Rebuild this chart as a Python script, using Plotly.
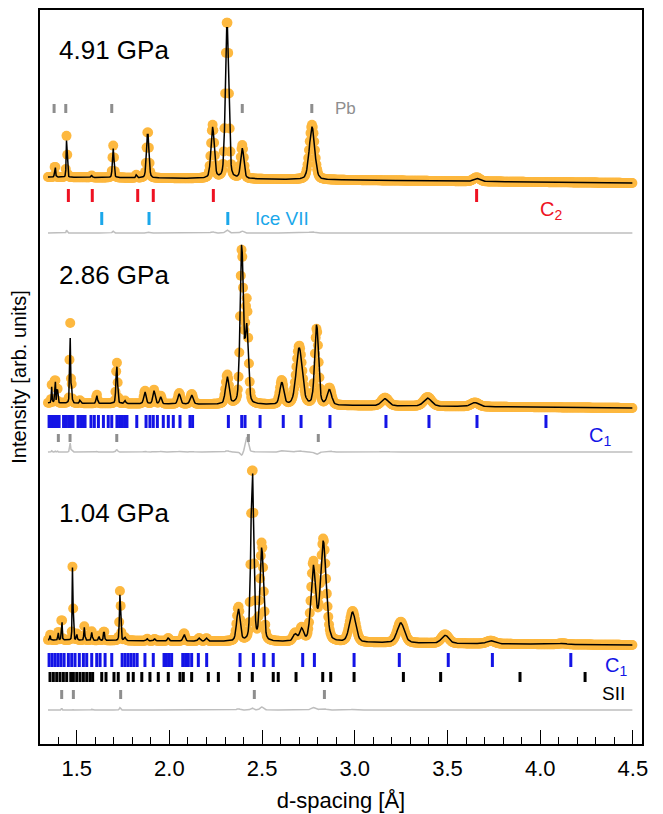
import numpy as np
import plotly.graph_objects as go

# ---------------- data ----------------
# d-spacing sampling of the measured patterns
d_start, d_stop, d_step = 1.345, 4.50, 0.004

# pattern 1 : 4.91 GPa   (peak centre [A], calc height, obs height, FWHM [A])
p1_pos  = [1.383, 1.446, 1.580, 1.697, 1.822, 1.883, 2.233, 2.311, 2.393, 2.769, 3.657]
p1_hc   = [13, 40, 2, 29, 3, 46, 51, 155, 30, 53, 3]
p1_ho   = [14, 45, 2, 32, 3, 48, 53, 160, 33, 55, 4]
p1_w    = [0.006, 0.006, 0.008, 0.010, 0.008, 0.015, 0.021, 0.021, 0.020, 0.034, 0.04]
p1_base = [567, 561]
p1_diff = 511

# pattern 2 : 2.86 GPa
p2_pos = [1.365, 1.383, 1.395, 1.464, 1.472, 1.518, 1.608, 1.716, 1.760, 1.868, 1.917,
          1.953, 2.053, 2.120, 2.312, 2.390, 2.417, 2.606, 2.700, 2.794, 2.863,
          3.163, 3.393, 3.648]
p2_hc  = [16, 33, 20, 70, 15, 3, 8, 38, 3, 12, 13, 7, 10, 9, 27, 158, 75, 22, 57, 80, 15,
          7, 8, 4]
p2_ho  = [18, 35, 22, 86, 18, 3, 9, 42, 3, 13, 14, 8, 11, 10, 29, 152, 100, 24, 59, 76, 17,
          8, 9, 4]
p2_w   = [0.005, 0.005, 0.005, 0.006, 0.006, 0.008, 0.009, 0.010, 0.010, 0.015, 0.015,
          0.013, 0.017, 0.019, 0.022, 0.020, 0.020, 0.025, 0.038, 0.024, 0.028,
          0.045, 0.05, 0.05]
p2_base = [341, 336]
p2_diff = 292

# pattern 3 : 1.04 GPa
p3_pos = [1.356, 1.400, 1.419, 1.478, 1.500, 1.541, 1.581, 1.620, 1.647, 1.734, 1.760,
          1.880, 1.920, 1.994, 2.079, 2.160, 2.200, 2.372, 2.447, 2.498, 2.678, 2.713,
          2.776, 2.830, 2.988, 3.248, 3.478, 3.495, 3.733, 4.120]
p3_hc  = [5, 8, 28, 82, 6, 13, 8, 4, 10, 48, 3, 2, 2, 3, 7, 3, 3, 32, 173, 93, 7, 12,
          74, 100, 30, 20, 4, 5, 3, 1]
p3_ho  = [6, 9, 31, 83, 7, 14, 9, 5, 11, 52, 3, 2, 2, 3, 8, 3, 3, 34, 176, 98, 8, 13,
          78, 102, 31, 21, 5, 5, 3, 1]
p3_w   = [0.005, 0.005, 0.005, 0.005, 0.006, 0.006, 0.007, 0.007, 0.007, 0.008, 0.010,
          0.010, 0.010, 0.012, 0.014, 0.015, 0.015, 0.022, 0.018, 0.022, 0.025, 0.025,
          0.030, 0.036, 0.040, 0.046, 0.04, 0.04, 0.05, 0.05]
p3_base = [104, 99]
p3_diff = 34

# reflection markers (d-spacings)
pb1 = [1.378, 1.441, 1.689, 2.393, 2.768]
c2_1 = [1.455, 1.584, 1.829, 1.913, 2.237, 3.657]
ice7_1 = [1.635, 1.890, 2.315]

c1_2 = [1.351, 1.364, 1.378, 1.391, 1.405, 1.429, 1.442, 1.456, 1.469, 1.480, 1.507,
        1.521, 1.534, 1.545, 1.577, 1.595, 1.617, 1.644, 1.670, 1.689, 1.717, 1.731,
        1.744, 1.758, 1.771, 1.824, 1.874, 1.895, 1.913, 1.935, 1.967, 1.994, 2.021,
        2.057, 2.111, 2.125, 2.318, 2.390, 2.408, 2.489, 2.614, 2.710, 2.866, 3.168,
        3.400, 3.659, 4.031]
pb2 = [1.401, 1.464, 1.716, 2.426, 2.803]

c1_3 = [1.351, 1.367, 1.383, 1.399, 1.415, 1.432, 1.455, 1.473, 1.491, 1.514, 1.536,
        1.554, 1.581, 1.608, 1.626, 1.653, 1.689, 1.745, 1.761, 1.777, 1.793, 1.809,
        1.826, 1.868, 1.913, 1.971, 1.984, 1.998, 2.012, 2.072, 2.087, 2.102, 2.120,
        2.156, 2.201, 2.381, 2.453, 2.510, 2.560, 2.719, 2.782, 2.996, 3.240, 3.504,
        3.742, 4.165]
sii_3 = [1.356, 1.374, 1.392, 1.410, 1.428, 1.446, 1.468, 1.482, 1.500, 1.518, 1.536,
         1.554, 1.572, 1.586, 1.635, 1.658, 1.701, 1.724, 1.778, 1.805, 1.851, 1.895,
         1.940, 1.994, 2.057, 2.075, 2.120, 2.210, 2.264, 2.377, 2.447, 2.560, 2.587,
         2.683, 2.827, 2.870, 2.996, 3.262, 3.463, 3.891, 4.242]
pb3 = [1.419, 1.482, 1.737, 2.458, 2.836]

pressure_labels = ["4.91 GPa", "2.86 GPa", "1.04 GPa"]

# ---------------- styling ----------------
ORANGE = "#FDB83F"
FONT = "Liberation Sans"
GREY_PB = "#8E8E8E"
GREY_DIFF = "#BEBEBE"
RED = "#EE1122"
BLUE = "#1414E6"
ICE = "#1BA7EA"

x = np.arange(d_start, d_stop + 1e-9, d_step)


def profile(pos, h, w, eta=0.3):
    y = np.zeros_like(x)
    for c, a, fw in zip(pos, h, w):
        t = (x - c) / fw
        g = np.exp(-4 * np.log(2) * t ** 2)
        lo = 1.0 / (1.0 + 4 * t ** 2)
        y += a * ((1 - eta) * g + eta * lo)
    return y


def baseline(b):
    return b[0] + (b[1] - b[0]) * (x - d_start) / (d_stop - d_start)


fig = go.Figure()

patterns = [
    (p1_pos, p1_hc, p1_ho, p1_w, p1_base, p1_diff),
    (p2_pos, p2_hc, p2_ho, p2_w, p2_base, p2_diff),
    (p3_pos, p3_hc, p3_ho, p3_w, p3_base, p3_diff),
]

for pos, hc, ho, w, b, dlev in patterns:
    base = baseline(b)
    calc = base + profile(pos, hc, w)
    obs = base + profile(pos, ho, w)
    diff = dlev + 0.6 * (obs - calc)
    fig.add_trace(go.Scatter(x=x, y=diff, mode="lines",
                             line=dict(color=GREY_DIFF, width=1.5),
                             showlegend=False, hoverinfo="skip"))
    fig.add_trace(go.Scatter(x=x, y=obs, mode="markers",
                             marker=dict(color=ORANGE, size=10, line=dict(width=0)),
                             showlegend=False))
    fig.add_trace(go.Scatter(x=x, y=calc, mode="lines",
                             line=dict(color="black", width=1.5),
                             showlegend=False))


def ticks(positions, y0, y1, color, width=3):
    xs, ys = [], []
    for p in positions:
        xs += [p, p, None]
        ys += [y0, y1, None]
    fig.add_trace(go.Scatter(x=xs, y=ys, mode="lines",
                             line=dict(color=color, width=width),
                             showlegend=False, hoverinfo="skip"))


ticks(pb1, 631, 640, GREY_PB)
ticks(c2_1, 542, 555, RED)
ticks(ice7_1, 519, 532, ICE)
ticks(c1_2, 316, 329, BLUE)
ticks(pb2, 302, 310, GREY_PB)
ticks(c1_3, 77, 91, BLUE)
ticks(sii_3, 62, 72, "black")
ticks(pb3, 45, 54, GREY_PB)

ann = [
    (1.394, 694, pressure_labels[0], "black", 26),
    (1.394, 469, pressure_labels[1], "black", 26),
    (1.394, 231, pressure_labels[2], "black", 26),
    (2.882, 636, "Pb", GREY_PB, 17),
    (2.451, 526, "Ice VII", ICE, 19),
    (3.988, 534, "C<sub>2</sub>", RED, 20),
    (4.252, 308, "C<sub>1</sub>", BLUE, 20),
    (4.339, 78, "C<sub>1</sub>", BLUE, 20),
    (4.323, 51, "SII", "black", 19),
]
for ax_, ay_, txt, col, fs in ann:
    fig.add_annotation(x=ax_, y=ay_, text=txt, showarrow=False,
                       xanchor="left", yanchor="middle",
                       font=dict(family=FONT, size=fs, color=col))

# the page body adds an 8 px offset, so the figure is 8 px smaller
fig.update_layout(
    template="none",
    width=655, height=806,
    margin=dict(l=32, r=21, t=2, b=70, autoexpand=False),
    paper_bgcolor="white", plot_bgcolor="white",
    font=dict(family=FONT, color="black"),
    showlegend=False,
    xaxis=dict(range=[1.302, 4.549], showgrid=False, zeroline=False, automargin=False,
               showline=True, linecolor="black", linewidth=1.5, mirror=True,
               ticks="inside", ticklen=14, tickwidth=1.2, tickcolor="black",
               tick0=1.5, dtick=0.5, tickformat=".1f", ticklabelstandoff=4,
               tickfont=dict(family=FONT, size=22),
               minor=dict(ticks="inside", ticklen=7, dtick=0.1, tickwidth=1.2,
                          tickcolor="black", showgrid=False),
               title=dict(text="d-spacing [Å]", font=dict(family=FONT, size=22),
                          standoff=12)),
    yaxis=dict(range=[0, 734], showgrid=False, zeroline=False, automargin=False,
               showline=True, linecolor="black", linewidth=1.5, mirror=True,
               ticks="", showticklabels=False,
               title=dict(text="Intensity [arb. units]",
                          font=dict(family=FONT, size=20), standoff=8)),
)

fig.write_html("out.html")
